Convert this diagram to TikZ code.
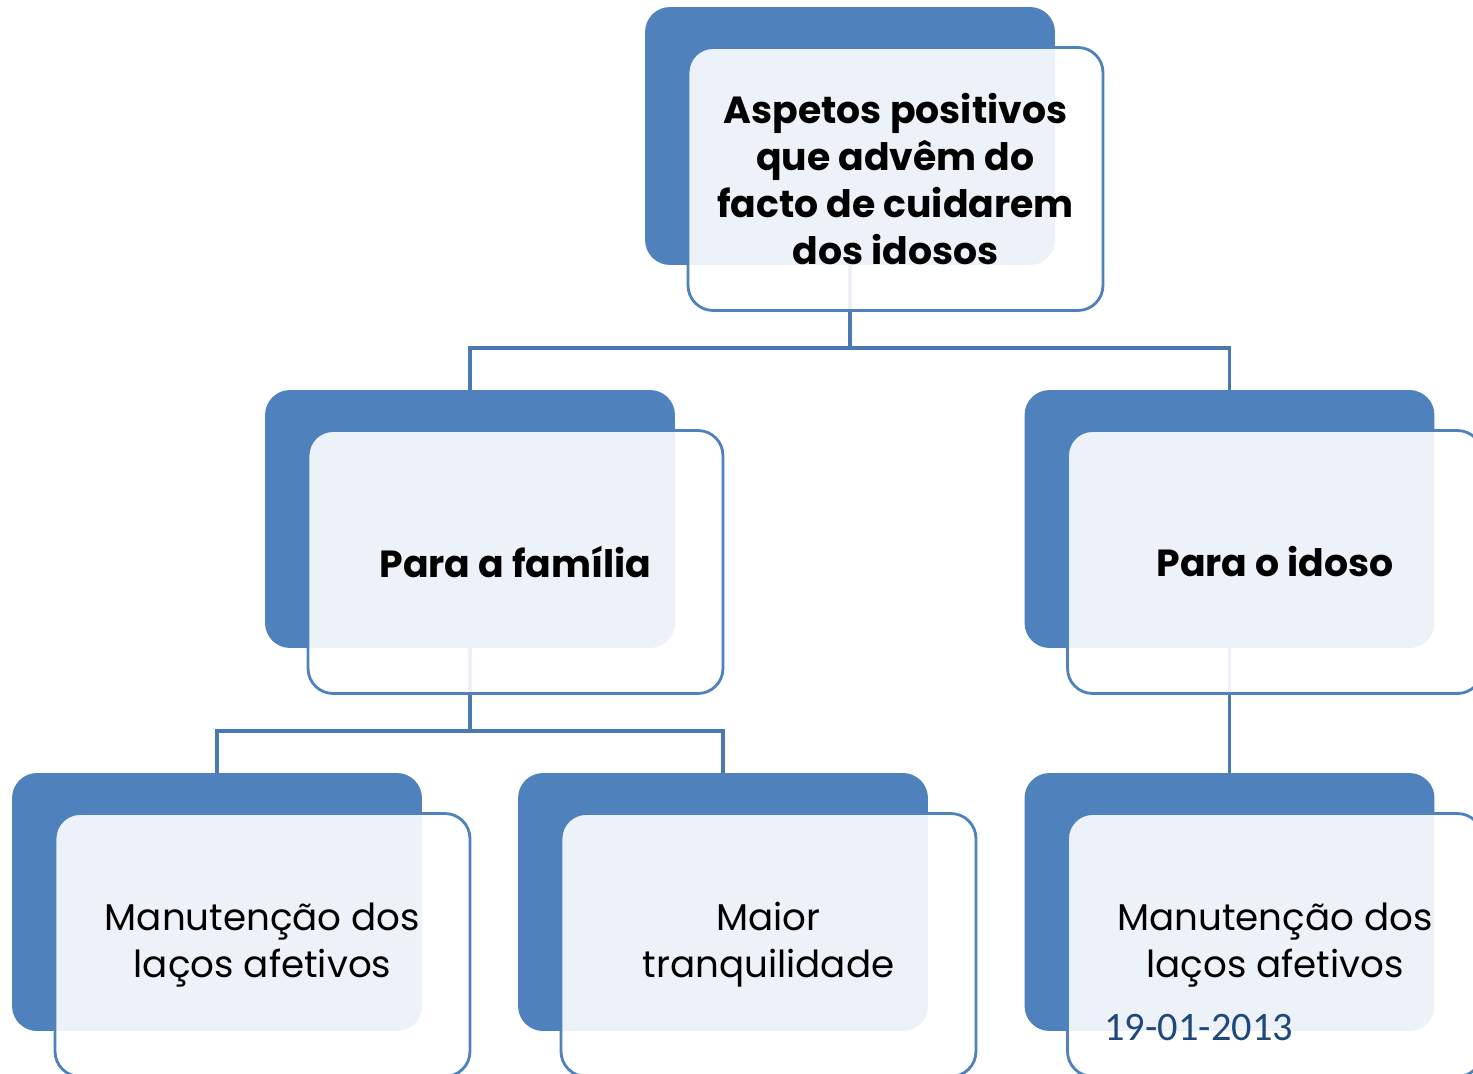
\documentclass[tikz,border=0pt]{standalone}
\usepackage{fontspec}
\setmainfont{Poppins}
\newfontfamily\datefont{Carlito}
\usetikzlibrary{positioning}

\definecolor{boxblue}{HTML}{4F81BD}
\definecolor{lineblue}{HTML}{4A78B0}
\definecolor{datecol}{HTML}{1F497D}

\tikzset{
  backbox/.style={rectangle, rounded corners=0.5cm, fill=boxblue,
    minimum width=8.2cm, minimum height=5.16cm, inner sep=0pt},
  frontbox/.style={rectangle, rounded corners=0.5cm, draw=boxblue, line width=1.6pt,
    fill=white, fill opacity=0.9, text opacity=1,
    minimum width=8.3cm, minimum height=5.26cm, align=center, inner sep=0pt},
  headtxt/.style={font=\fontsize{21.5}{26.7}\selectfont\bfseries},
  leaftxt/.style={font=\fontsize{21.2}{26.7}\selectfont},
  link/.style={draw=lineblue, line width=1.8pt}
}

\begin{document}
\begin{tikzpicture}[x=0.02cm,y=-0.02cm]
  \useasboundingbox (0,0) rectangle (1473,1074);
  \clip (0,0) rectangle (1473,1074);

  % back boxes
  \node[backbox] (rootbg) at (850,136) {};
  \node[backbox] (familiabg) at (470,519) {};
  \node[backbox] (idosobg) at (1229.5,519) {};
  \node[backbox] (lacosAbg) at (217,902) {};
  \node[backbox] (maiorbg) at (723,902) {};
  \node[backbox] (lacosBbg) at (1229.5,902) {};

  % connectors
  \draw[link] (rootbg.south) |- (850,348) -| (familiabg.north);
  \draw[link] (850,348) -| (idosobg.north);
  \draw[link] (familiabg.south) |- (470,731) -| (lacosAbg.north);
  \draw[link] (470,731) -| (maiorbg.north);
  \draw[link] (idosobg.south) -- (lacosBbg.north);

  % front boxes
  \node[frontbox, headtxt] (root) at ([shift={(45.5,43)}]rootbg.center)
    {Aspetos positivos\\que advêm do\\facto de cuidarem\\dos idosos};
  \node[frontbox, headtxt] (familia) at ([shift={(45.5,43)}]familiabg.center) {Para a família};
  \node[frontbox, headtxt] (idoso) at ([shift={(45.5,43)}]idosobg.center) {Para o idoso};
  \node[frontbox, leaftxt] (lacosA) at ([shift={(45.5,43)}]lacosAbg.center)
    {Manutenção dos\\laços afetivos};
  \node[frontbox, leaftxt] (maior) at ([shift={(45.5,43)}]maiorbg.center)
    {Maior\\tranquilidade};
  \node[frontbox, leaftxt] (lacosB) at ([shift={(45.5,43)}]lacosBbg.center)
    {Manutenção dos\\laços afetivos};

  % date
  \node[anchor=west, inner sep=0pt, text=datecol, font=\datefont\fontsize{23}{26}\selectfont]
    (date) at (1104,1028) {19-01-2013};
\end{tikzpicture}
\end{document}
